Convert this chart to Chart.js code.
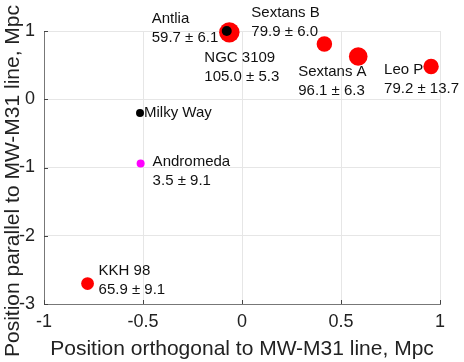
<!DOCTYPE html>
<html>
<head>
<meta charset="utf-8">
<script src="https://cdn.jsdelivr.net/npm/chart.js@4"></script>
<style>
  body { margin: 0; background: #fff; }
  #wrap { width: 464px; height: 362px; }
</style>
</head>
<body>
<div id="wrap"><canvas id="myChart" width="464" height="362"></canvas></div>
<script>
// galaxy positions (Mpc) and velocity +- error
const names = ['Antlia', 'NGC 3109', 'Sextans B', 'Sextans A', 'Leo P', 'Milky Way', 'Andromeda', 'KKH 98'];
const xPos = [-0.077, -0.064, 0.416, 0.587, 0.955, -0.515, -0.512, -0.78];
const yPos = [1.0, 0.98, 0.81, 0.626, 0.48, -0.2, -0.94, -2.70];
const vel = [59.7, 105.0, 79.9, 96.1, 79.2, null, 3.5, 65.9];
const velErr = [6.1, 5.3, 6.0, 6.3, 13.7, null, 9.1, 9.1];
const group = ['black', 'red', 'red', 'red', 'red', 'black', 'magenta', 'red'];
const xTicks = [-1, -0.5, 0, 0.5, 1];
const yTicks = [-3, -2, -1, 0, 1];

// label offsets in px relative to the marker
const labelOffset = {
  'Antlia': [-75, -12], 'NGC 3109': [-25, 25], 'Sextans B': [-73, -31],
  'Sextans A': [-60, 15], 'Leo P': [-47, 3], 'Milky Way': [4, 0],
  'Andromeda': [12, -2], 'KKH 98': [11, -13]
};

const FONT = '"Liberation Sans", Arial, Helvetica, sans-serif';

function pointsFor(g) {
  const pts = [];
  names.forEach((n, i) => {
    if (group[i] === g) pts.push({ x: xPos[i], y: yPos[i], v: vel[i] });
  });
  return pts;
}

const labelPlugin = {
  id: 'labels',
  afterDatasetsDraw(chart) {
    const { ctx, scales: { x, y }, chartArea } = chart;
    ctx.save();
    ctx.font = '15px ' + FONT;
    ctx.fillStyle = '#111';
    ctx.textAlign = 'left';
    ctx.textBaseline = 'middle';
    names.forEach((n, i) => {
      const px = x.getPixelForValue(xPos[i]);
      const py = y.getPixelForValue(yPos[i]);
      const [dx, dy] = labelOffset[n];
      ctx.fillText(n, px + dx, py + dy);
      if (vel[i] !== null) {
        ctx.fillText(vel[i].toFixed(1) + ' \u00B1 ' + velErr[i].toFixed(1), px + dx, py + dy + 19);
      }
    });

    // inward tick marks
    ctx.strokeStyle = '#444';
    ctx.lineWidth = 1;
    ctx.beginPath();
    yTicks.forEach(t => {
      const py = Math.round(y.getPixelForValue(t)) + 0.5;
      ctx.moveTo(chartArea.left, py);
      ctx.lineTo(chartArea.left + 4, py);
    });
    xTicks.forEach(t => {
      const px = Math.round(x.getPixelForValue(t)) + 0.5;
      ctx.moveTo(px, chartArea.bottom);
      ctx.lineTo(px, chartArea.bottom - 4);
    });
    ctx.stroke();

    // y axis title
    ctx.font = '21px ' + FONT;
    ctx.fillStyle = '#222';
    ctx.textAlign = 'center';
    ctx.translate(13, 181);
    ctx.rotate(-Math.PI / 2);
    ctx.fillText('Position parallel to MW-M31 line, Mpc', 0, 0);
    ctx.restore();
  }
};

const ctx = document.getElementById('myChart');

new Chart(ctx, {
  type: 'scatter',
  data: {
    datasets: [
      {
        data: pointsFor('black'),
        backgroundColor: '#000',
        borderWidth: 0,
        pointRadius: c => (c.raw && c.raw.v === null ? 4 : 5),
        order: 0,
        clip: false
      },
      {
        data: pointsFor('magenta'),
        backgroundColor: '#ff00ff',
        borderWidth: 0,
        pointRadius: 4,
        order: 1,
        clip: false
      },
      {
        data: pointsFor('red'),
        backgroundColor: '#ff0000',
        borderWidth: 0,
        pointRadius: c => (c.raw ? c.raw.v / 10.3 : 6),
        order: 2,
        clip: false
      }
    ]
  },
  options: {
    responsive: false,
    animation: false,
    events: [],
    layout: { padding: { top: 31, right: 24, left: 0, bottom: 0 } },
    plugins: { legend: { display: false }, tooltip: { enabled: false } },
    scales: {
      x: {
        type: 'linear',
        min: -1, max: 1,
        afterBuildTicks: s => { s.ticks = xTicks.map(v => ({ value: v })); },
        afterFit: s => { s.height = 58; },
        grid: { color: '#e6e6e6', drawTicks: false },
        border: { color: '#777' },
        ticks: {
          padding: 7,
          color: '#222',
          font: { family: FONT, size: 18 },
          callback: v => String(v)
        },
        title: {
          display: true,
          text: 'Position orthogonal to MW-M31 line, Mpc',
          color: '#222',
          font: { family: FONT, size: 21 },
          padding: { top: 0, bottom: 0 }
        }
      },
      y: {
        type: 'linear',
        min: -3, max: 1,
        afterBuildTicks: s => { s.ticks = yTicks.map(v => ({ value: v })); },
        afterFit: s => { s.width = 44; },
        grid: { color: '#e6e6e6', drawTicks: false },
        border: { color: '#777' },
        ticks: {
          padding: 9,
          color: '#222',
          font: { family: FONT, size: 18 },
          callback: v => String(v)
        }
      }
    }
  },
  plugins: [labelPlugin]
});
</script>
</body>
</html>
